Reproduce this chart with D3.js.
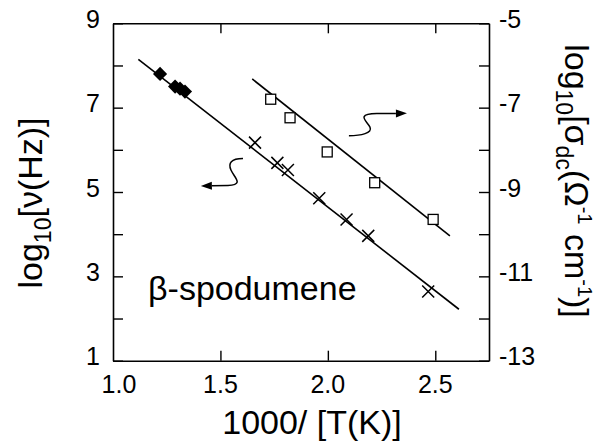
<!DOCTYPE html>
<html>
<head>
<meta charset="utf-8">
<script src="https://cdn.jsdelivr.net/npm/d3@7/dist/d3.min.js"></script>
<style>
  html, body { margin: 0; padding: 0; background: #fff; }
  svg text { font-family: "Liberation Sans", Arial, Helvetica, sans-serif; fill: #000; }
</style>
</head>
<body>
<svg id="chart" width="601" height="444"></svg>
<script>
// Relaxation frequency (filled diamonds, crosses) and dc conductivity (open squares)
// of beta-spodumene versus inverse temperature.
const diamondX = [1.219, 1.289, 1.312, 1.335];
const diamondY = [7.80, 7.50, 7.45, 7.38];

const crossX = [1.661, 1.765, 1.814, 1.960, 2.087, 2.188, 2.467];
const crossY = [6.17, 5.69, 5.52, 4.85, 4.35, 3.96, 2.64];

const squareX = [1.734, 1.824, 1.997, 2.218, 2.490];
const squareY = [-6.80, -7.24, -8.05, -8.78, -9.65];   // right axis units

// Straight-line fits drawn through each data set (end points)
const nuFitX = [1.118, 2.610];
const nuFitY = [8.146, 2.22];
const sigmaFitX = [1.648, 2.568];
const sigmaFitY = [-6.32, -10.04];

// Tick values and labels
const xTicks = [1.0, 1.5, 2.0, 2.5];
const xTickLabels = ["1.0", "1.5", "2.0", "2.5"];
const leftTicks = [1, 2, 3, 4, 5, 6, 7, 8, 9];
const leftLabels = [1, 3, 5, 7, 9];
const rightTicks = [-13, -12, -11, -10, -9, -8, -7, -6, -5];
const rightLabels = [-13, -11, -9, -7, -5];

// Curly arrows pointing each data set to its axis (data units of left axis)
const arrowLeftX = [1.605, 1.549, 1.535, 1.549, 1.563, 1.614, 1.535, 1.409];
const arrowLeftY = [5.794, 5.794, 5.687, 5.520, 5.354, 5.164, 5.154, 5.142];
const arrowRightX = [2.098, 2.154, 2.210, 2.196, 2.182, 2.126, 2.228, 2.368];
const arrowRightY = [6.334, 6.334, 6.398, 6.540, 6.683, 6.849, 6.861, 6.865];

const svg = d3.select("#chart");
const L = 113, R = 489, T = 23.3, B = 360.7;

const x = d3.scaleLinear().domain([1.0, 2.75]).range([L, R]);
const yL = d3.scaleLinear().domain([1, 9]).range([B, T]);
const yR = d3.scaleLinear().domain([-13, -5]).range([B, T]);

const tickFont = 25;

// Axes: ticks point inward on all four sides
const gBottom = svg.append("g").attr("transform", `translate(0,${B})`)
  .call(d3.axisBottom(x).tickValues(xTicks.slice(1)).tickSize(-10).tickSizeOuter(0).tickPadding(14).tickFormat(() => ""));
const gTop = svg.append("g").attr("transform", `translate(0,${T})`)
  .call(d3.axisTop(x).tickValues(xTicks.slice(1)).tickSize(-10).tickSizeOuter(0).tickFormat(() => ""));
const gLeft = svg.append("g").attr("transform", `translate(${L},0)`)
  .call(d3.axisLeft(yL).tickValues(leftTicks).tickSize(-10).tickSizeOuter(0).tickPadding(13)
    .tickFormat(d => leftLabels.includes(d) ? String(d) : ""));
const gRight = svg.append("g").attr("transform", `translate(${R},0)`)
  .call(d3.axisRight(yR).tickValues(rightTicks).tickSize(-10).tickSizeOuter(0).tickPadding(10)
    .tickFormat(d => rightLabels.includes(d) ? String(d) : ""));

[gBottom, gTop, gLeft, gRight].forEach(g => {
  g.attr("font-family", null).attr("font-size", null);
  g.select(".domain").attr("stroke", "#000").attr("stroke-width", 1.6);
  g.selectAll(".tick line").attr("stroke", "#000").attr("stroke-width", 1.4);
  g.selectAll(".tick text").attr("font-size", tickFont);
});
gLeft.selectAll(".tick text").attr("dy", "0.16em");
gRight.selectAll(".tick text").attr("dy", "0.16em");

// x tick labels (1.0 sits at the corner)
svg.append("g").selectAll("text").data(xTicks).join("text")
  .attr("x", d => x(d) + (d === 1.0 ? 6 : 0))
  .attr("y", B + 32)
  .attr("text-anchor", "middle")
  .attr("font-size", tickFont)
  .text((d, i) => xTickLabels[i]);

// Fit lines
const line = d3.line();
svg.append("path")
  .attr("d", line(nuFitX.map((d, i) => [x(d), yL(nuFitY[i])])))
  .attr("stroke", "#000").attr("stroke-width", 1.6).attr("fill", "none");
svg.append("path")
  .attr("d", line(sigmaFitX.map((d, i) => [x(d), yR(sigmaFitY[i])])))
  .attr("stroke", "#000").attr("stroke-width", 1.6).attr("fill", "none");

// Filled diamonds
svg.append("g").selectAll("path").data(diamondX).join("path")
  .attr("transform", (d, i) => `translate(${x(d)},${yL(diamondY[i])}) rotate(45)`)
  .attr("d", d3.symbol(d3.symbolSquare, 100)())
  .attr("fill", "#000");

// Crosses
svg.append("g").selectAll("path").data(crossX).join("path")
  .attr("transform", (d, i) => `translate(${x(d)},${yL(crossY[i])})`)
  .attr("d", "M-6,-6L6,6M-6,6L6,-6")
  .attr("stroke", "#000").attr("stroke-width", 1.5).attr("fill", "none");

// Open squares
svg.append("g").selectAll("rect").data(squareX).join("rect")
  .attr("x", d => x(d) - 5)
  .attr("y", (d, i) => yR(squareY[i]) - 5)
  .attr("width", 10).attr("height", 10)
  .attr("fill", "#fff").attr("stroke", "#000").attr("stroke-width", 1.3);

// Curly arrows
function curlyArrow(xs, ys) {
  const p = xs.map((d, i) => [x(d), yL(ys[i])]);
  const path = d3.path();
  path.moveTo(p[0][0], p[0][1]);
  path.bezierCurveTo(p[1][0], p[1][1], p[2][0], p[2][1], p[3][0], p[3][1]);
  path.bezierCurveTo(p[4][0], p[4][1], p[5][0], p[5][1], p[6][0], p[6][1]);
  const tip = p[7], prev = p[6];
  const ang = Math.atan2(tip[1] - prev[1], tip[0] - prev[0]);
  const len = 11, half = 4;
  const bx = tip[0] - len * Math.cos(ang), by = tip[1] - len * Math.sin(ang);
  path.lineTo(bx, by);
  svg.append("path").attr("d", path.toString())
    .attr("fill", "none").attr("stroke", "#000").attr("stroke-width", 1.5);
  const head = d3.path();
  head.moveTo(tip[0], tip[1]);
  head.lineTo(bx + half * Math.sin(ang), by - half * Math.cos(ang));
  head.lineTo(bx - half * Math.sin(ang), by + half * Math.cos(ang));
  head.closePath();
  svg.append("path").attr("d", head.toString()).attr("fill", "#000");
}
curlyArrow(arrowLeftX, arrowLeftY);
curlyArrow(arrowRightX, arrowRightY);

// Sample name
svg.append("text")
  .attr("x", 148).attr("y", 300)
  .attr("font-size", 34)
  .text("β-spodumene");

// Axis titles
svg.append("text")
  .attr("x", 312).attr("y", 434)
  .attr("text-anchor", "middle")
  .attr("font-size", 34)
  .text("1000/ [T(K)]");

const leftTitle = svg.append("text")
  .attr("transform", "translate(42,203) rotate(-90)")
  .attr("text-anchor", "middle")
  .attr("font-size", 34);
leftTitle.append("tspan").text("log");
leftTitle.append("tspan").attr("font-size", 23).attr("dy", 9).text("10");
leftTitle.append("tspan").attr("dy", -9).text("[ν(Hz)]");

const rightTitle = svg.append("text")
  .attr("transform", "translate(565,181) rotate(90)")
  .attr("text-anchor", "middle")
  .attr("font-size", 34);
rightTitle.append("tspan").text("log");
rightTitle.append("tspan").attr("font-size", 23).attr("dy", 9).text("10");
rightTitle.append("tspan").attr("dy", -9).text("[σ");
rightTitle.append("tspan").attr("font-size", 23).attr("dy", 9).text("dc");
rightTitle.append("tspan").attr("dy", -9).text("(Ω");
rightTitle.append("tspan").attr("font-size", 20).attr("dy", -13).text("-1");
rightTitle.append("tspan").attr("dy", 13).text(" cm");
rightTitle.append("tspan").attr("font-size", 20).attr("dy", -13).text("-1");
rightTitle.append("tspan").attr("dy", 13).text(")]");
</script>
</body>
</html>
